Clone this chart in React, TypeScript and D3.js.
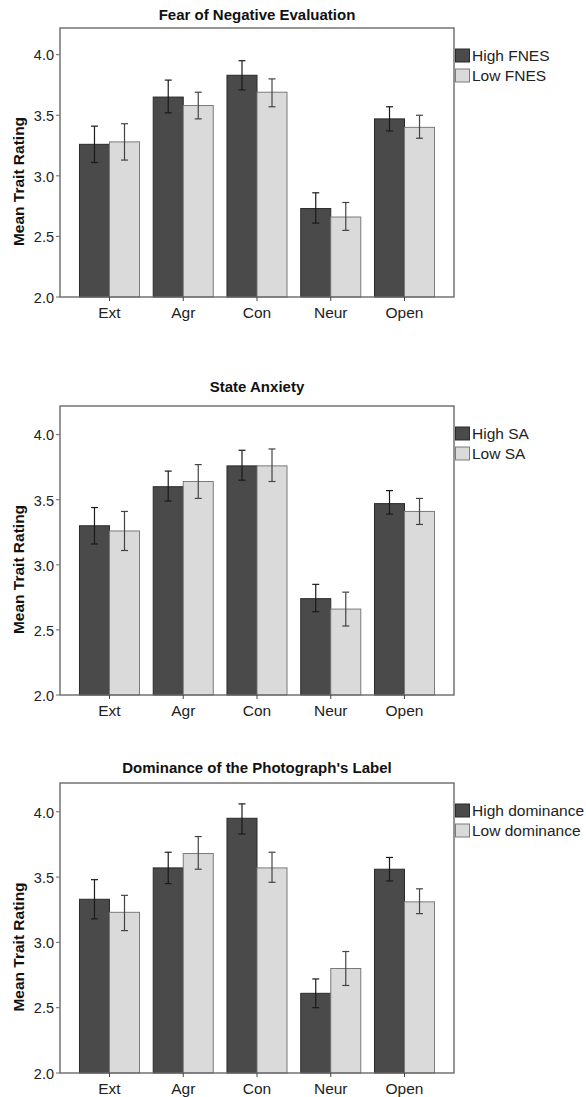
import React, { useEffect, useRef } from 'react';
import * as d3 from 'd3';

const categories = ['Ext', 'Agr', 'Con', 'Neur', 'Open'];
const yTicks = [2.0, 2.5, 3.0, 3.5, 4.0];

// Fear of Negative Evaluation
const fnesHigh = [3.26, 3.65, 3.83, 2.73, 3.47];
const fnesHighLower = [3.11, 3.52, 3.71, 2.61, 3.37];
const fnesHighUpper = [3.41, 3.79, 3.95, 2.86, 3.57];
const fnesLow = [3.28, 3.58, 3.69, 2.66, 3.40];
const fnesLowLower = [3.13, 3.47, 3.57, 2.55, 3.31];
const fnesLowUpper = [3.43, 3.69, 3.80, 2.78, 3.50];

// State Anxiety
const saHigh = [3.30, 3.60, 3.76, 2.74, 3.47];
const saHighLower = [3.16, 3.49, 3.65, 2.64, 3.39];
const saHighUpper = [3.44, 3.72, 3.88, 2.85, 3.57];
const saLow = [3.26, 3.64, 3.76, 2.66, 3.41];
const saLowLower = [3.11, 3.51, 3.64, 2.53, 3.31];
const saLowUpper = [3.41, 3.77, 3.89, 2.79, 3.51];

// Dominance of the photograph's label
const domHigh = [3.33, 3.57, 3.95, 2.61, 3.56];
const domHighLower = [3.18, 3.45, 3.83, 2.50, 3.47];
const domHighUpper = [3.48, 3.69, 4.06, 2.72, 3.65];
const domLow = [3.23, 3.68, 3.57, 2.80, 3.31];
const domLowLower = [3.09, 3.56, 3.46, 2.67, 3.22];
const domLowUpper = [3.36, 3.81, 3.69, 2.93, 3.41];

const panels = [
  {
    title: 'Fear of Negative Evaluation', legend: ['High FNES', 'Low FNES'],
    high: fnesHigh, highLower: fnesHighLower, highUpper: fnesHighUpper,
    low: fnesLow, lowLower: fnesLowLower, lowUpper: fnesLowUpper,
    top: 28, bottom: 297, titleY: 20,
  },
  {
    title: 'State Anxiety', legend: ['High SA', 'Low SA'],
    high: saHigh, highLower: saHighLower, highUpper: saHighUpper,
    low: saLow, lowLower: saLowLower, lowUpper: saLowUpper,
    top: 406, bottom: 695, titleY: 392,
  },
  {
    title: "Dominance of the Photograph's Label", legend: ['High dominance', 'Low dominance'],
    high: domHigh, highLower: domHighLower, highUpper: domHighUpper,
    low: domLow, lowLower: domLowLower, lowUpper: domLowUpper,
    top: 783, bottom: 1073, titleY: 773,
  },
];

const W = 586;
const H = 1097;
const left = 60;
const right = 454;
const font = '"Liberation Sans", Arial, sans-serif';
const darkFill = '#4a4a4a';
const lightFill = '#dadada';

const App = () => {
  const svgRef = useRef<SVGSVGElement>(null);

  useEffect(() => {
    const svg = d3.select(svgRef.current);
    svg.selectAll('*').remove();

    const x = d3.scaleBand()
      .domain(categories)
      .range([left, right])
      .paddingInner(0.186)
      .paddingOuter(0.264);
    const xSub = d3.scaleBand()
      .domain(['high', 'low'])
      .range([0, x.bandwidth()]);

    panels.forEach(p => {
      const g = svg.append('g');
      const y = d3.scaleLinear().domain([2, 4.22]).range([p.bottom, p.top]);

      // title
      g.append('text')
        .attr('x', (left + right) / 2)
        .attr('y', p.titleY)
        .attr('text-anchor', 'middle')
        .style('font-family', font)
        .style('font-size', '15px')
        .style('font-weight', 'bold')
        .attr('fill', '#111')
        .text(p.title);

      // bars
      const series = [
        { key: 'high', vals: p.high, lo: p.highLower, hi: p.highUpper, fill: darkFill, stroke: '#2a2a2a' },
        { key: 'low', vals: p.low, lo: p.lowLower, hi: p.lowUpper, fill: lightFill, stroke: '#7a7a7a' },
      ];
      series.forEach(s => {
        g.selectAll(null)
          .data(categories)
          .enter()
          .append('rect')
          .attr('x', (c) => (x(c) as number) + (xSub(s.key) as number))
          .attr('y', (c, i) => y(s.vals[i]))
          .attr('width', xSub.bandwidth())
          .attr('height', (c, i) => p.bottom - y(s.vals[i]))
          .attr('fill', s.fill)
          .attr('stroke', s.stroke)
          .attr('stroke-width', 1);
      });

      // error bars
      series.forEach(s => {
        categories.forEach((c, i) => {
          const cx = (x(c) as number) + (xSub(s.key) as number) + xSub.bandwidth() / 2;
          const col = s.key === 'high' ? '#1a1a1a' : '#444';
          g.append('line')
            .attr('x1', cx).attr('x2', cx)
            .attr('y1', y(s.lo[i])).attr('y2', y(s.hi[i]))
            .attr('stroke', col).attr('stroke-width', 1.2);
          [s.lo[i], s.hi[i]].forEach(v => {
            g.append('line')
              .attr('x1', cx - 3.5).attr('x2', cx + 3.5)
              .attr('y1', y(v)).attr('y2', y(v))
              .attr('stroke', col).attr('stroke-width', 1.2);
          });
        });
      });

      // frame
      g.append('rect')
        .attr('x', left)
        .attr('y', p.top)
        .attr('width', right - left)
        .attr('height', p.bottom - p.top)
        .attr('fill', 'none')
        .attr('stroke', '#6a6a6a')
        .attr('stroke-width', 1.4);

      // y axis ticks
      yTicks.forEach(t => {
        g.append('line')
          .attr('x1', left - 4).attr('x2', left)
          .attr('y1', y(t)).attr('y2', y(t))
          .attr('stroke', '#6a6a6a').attr('stroke-width', 1);
        g.append('text')
          .attr('x', left - 6)
          .attr('y', y(t))
          .attr('dy', '0.4em')
          .attr('text-anchor', 'end')
          .style('font-family', font)
          .style('font-size', '14.5px')
          .attr('fill', '#222')
          .text(d3.format('.1f')(t));
      });

      // x axis ticks and labels
      categories.forEach(c => {
        const cx = (x(c) as number) + x.bandwidth() / 2;
        g.append('line')
          .attr('x1', cx).attr('x2', cx)
          .attr('y1', p.bottom).attr('y2', p.bottom + 4)
          .attr('stroke', '#444').attr('stroke-width', 1);
        g.append('text')
          .attr('x', cx)
          .attr('y', p.bottom + 21)
          .attr('text-anchor', 'middle')
          .style('font-family', font)
          .style('font-size', '15.5px')
          .attr('fill', '#222')
          .text(c);
      });

      // y axis title
      const ty = (p.top + p.bottom) / 2 + 19;
      g.append('text')
        .attr('transform', `translate(24,${ty}) rotate(-90)`)
        .attr('text-anchor', 'middle')
        .style('font-family', font)
        .style('font-size', '15.5px')
        .style('font-weight', 'bold')
        .attr('fill', '#111')
        .text('Mean Trait Rating');

      // legend
      p.legend.forEach((name, i) => {
        const ly = p.top + 21 + i * 20;
        g.append('rect')
          .attr('x', right + 1.5)
          .attr('y', ly)
          .attr('width', 14)
          .attr('height', 13)
          .attr('fill', i === 0 ? darkFill : lightFill)
          .attr('stroke', i === 0 ? '#2a2a2a' : '#7a7a7a')
          .attr('stroke-width', 1);
        g.append('text')
          .attr('x', right + 18)
          .attr('y', ly + 12)
          .style('font-family', font)
          .style('font-size', '15.5px')
          .attr('fill', '#222')
          .text(name);
      });
    });
  }, []);

  return (
    <svg
      ref={svgRef}
      width={W}
      height={H}
      style={{ position: 'absolute', left: 0, top: 0, background: '#fff' }}
    ></svg>
  );
};

export default App;
